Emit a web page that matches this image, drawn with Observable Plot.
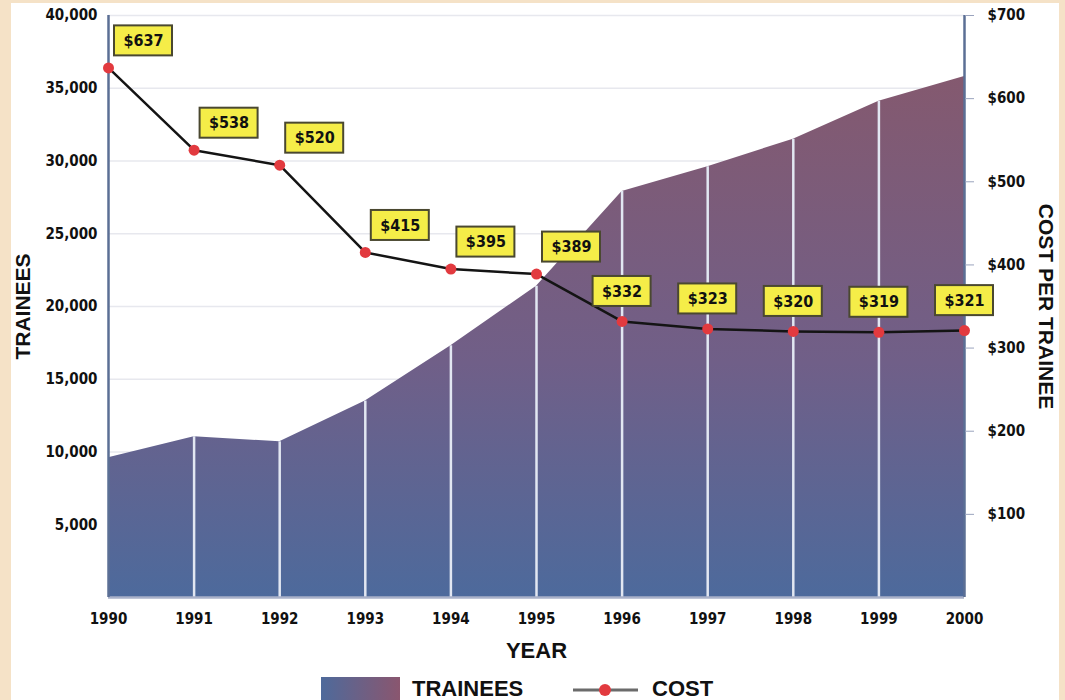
<!DOCTYPE html>
<html>
<head>
<meta charset="utf-8">
<script src="https://cdn.jsdelivr.net/npm/d3@7"></script>
<script src="https://cdn.jsdelivr.net/npm/@observablehq/plot@0.6"></script>
<style>
  html, body { margin: 0; padding: 0; }
  body { background: #f5e2c7; width: 1065px; height: 700px; overflow: hidden; position: relative; }
  #card { position: absolute; left: 11px; top: 3px; width: 1048px; height: 697px; background: #fff; overflow: hidden; }
  #chart { position: absolute; left: 0; top: 0; }
  .lg { position: absolute; font-family: "Liberation Sans", Arial, sans-serif; font-weight: bold; font-size: 22px; line-height: 22px; color: #111; }
</style>
</head>
<body>
<div id="card">
  <div id="chart"></div>
  <div id="swatch" style="position:absolute;left:310px;top:674px;width:79px;height:26px;background:linear-gradient(to right,#4e6a9b,#8a566f);"></div>
  <div class="lg" style="left:401px;top:675px;">TRAINEES</div>
  <svg style="position:absolute;left:560px;top:677px;" width="70" height="20">
    <line x1="2" y1="10" x2="67" y2="10" stroke="#6b6b6b" stroke-width="3"/>
    <circle cx="34" cy="10" r="6" fill="#e23a3f"/>
  </svg>
  <div class="lg" style="left:641px;top:675px;">COST</div>
</div>
<script>
// ---- data ----
const years = [1990, 1991, 1992, 1993, 1994, 1995, 1996, 1997, 1998, 1999, 2000];
const trainees = [9600, 11050, 10700, 13500, 17300, 21400, 27900, 29600, 31500, 34100, 35800];
const cost = [637, 538, 520, 415, 395, 389, 332, 323, 320, 319, 321];
const traineeTicks = [5000, 10000, 15000, 20000, 25000, 30000, 35000, 40000];
const costTicks = [100, 200, 300, 400, 500, 600, 700];

const k = 40000 / 700; // cost -> trainee-scale factor
const data = years.map((y, i) => ({year: y, trainees: trainees[i], cost: cost[i], c: cost[i] * k, label: "$" + cost[i]}));
const early = data.slice(0, 6);
const late = data.slice(6);

const SVGNS = "http://www.w3.org/2000/svg";
const COND = "'DejaVu Sans Condensed', 'DejaVu Sans', sans-serif";

function defsMark() {
  const g = document.createElementNS(SVGNS, "g");
  g.innerHTML = `<defs>
    <linearGradient id="areaGrad" x1="0" y1="0" x2="0" y2="1">
      <stop offset="0" stop-color="#84596f"/>
      <stop offset="0.55" stop-color="#705f88"/>
      <stop offset="1" stop-color="#4d6a9c"/>
    </linearGradient></defs>`;
  return g;
}

function boxes(rows, dx, dy) {
  return (index, scales) => {
    const g = document.createElementNS(SVGNS, "g");
    for (const d of rows) {
      const cx = scales.x(d.year) + dx;
      const cy = scales.y(d.c) + dy;
      const r = document.createElementNS(SVGNS, "rect");
      r.setAttribute("x", cx - 29);
      r.setAttribute("y", cy - 15);
      r.setAttribute("width", 58);
      r.setAttribute("height", 30);
      r.setAttribute("fill", "#f5ed48");
      r.setAttribute("stroke", "#4a4830");
      r.setAttribute("stroke-width", 2);
      g.appendChild(r);
    }
    return g;
  };
}

const labelStyle = {fill: "#111", fontFamily: COND, fontWeight: "bold", fontSize: 16, textAnchor: "middle", lineAnchor: "middle"};

const chart = Plot.plot({
  width: 1048,
  height: 665,
  marginLeft: 97,
  marginRight: 95,
  marginTop: 12,
  marginBottom: 71,
  x: {domain: [1990, 2000], axis: null},
  y: {domain: [0, 40000], axis: null},
  style: {background: "transparent", fontFamily: COND, fontSize: "15px", fontWeight: "bold", color: "#111", overflow: "visible"},
  marks: [
    defsMark,
    Plot.ruleY(traineeTicks, {stroke: "#e7e8ee", strokeWidth: 1.5}),
    Plot.areaY(data, {x: "year", y: "trainees", fill: "url(#areaGrad)"}),
    Plot.ruleX(data.slice(1, -1), {x: "year", y1: 0, y2: "trainees", stroke: "#e2e7f2", strokeWidth: 2.5}),
    Plot.ruleY([0], {stroke: "#a9b1c9", strokeWidth: 2.5}),
    Plot.ruleX([1990, 2000], {stroke: "#5b6f95", strokeWidth: 2.5}),
    Plot.axisY(traineeTicks, {anchor: "left", tickSize: 0, tickPadding: 11, tickFormat: d3.format(","), fill: "#111", label: null}),
    Plot.axisY(costTicks.map(c => c * k), {anchor: "right", tickSize: 9, tickPadding: 14, stroke: "#9aa3bd", fill: "#111", tickFormat: d => "$" + Math.round(d / k), label: null}),
    Plot.axisX(years, {anchor: "bottom", tickSize: 0, tickPadding: 16, tickFormat: d => String(d), fill: "#111", label: null}),
    Plot.text(["YEAR"], {frameAnchor: "bottom", dy: 60, textAnchor: "middle", fontFamily: "Liberation Sans", fontSize: 22, fontWeight: "bold", fill: "#111"}),
    Plot.text(["TRAINEES"], {frameAnchor: "left", dx: -85, rotate: -90, textAnchor: "middle", fontFamily: "Liberation Sans", fontSize: 21, fontWeight: "bold", fill: "#111"}),
    Plot.text(["COST PER TRAINEE"], {frameAnchor: "right", dx: 81, rotate: 90, textAnchor: "middle", fontFamily: "Liberation Sans", fontSize: 21, fontWeight: "bold", fill: "#111"}),
    Plot.line(data, {x: "year", y: "c", stroke: "#141414", strokeWidth: 2.5}),
    Plot.dot(data, {x: "year", y: "c", r: 5.5, fill: "#e23a3f"}),
    boxes(early, 35, -27),
    boxes(late, 0, -30),
    Plot.text(early, {x: "year", y: "c", text: "label", dx: 35, dy: -27, ...labelStyle}),
    Plot.text(late, {x: "year", y: "c", text: "label", dx: 0, dy: -30, ...labelStyle})
  ]
});
document.getElementById("chart").appendChild(chart);
</script>
</body>
</html>
